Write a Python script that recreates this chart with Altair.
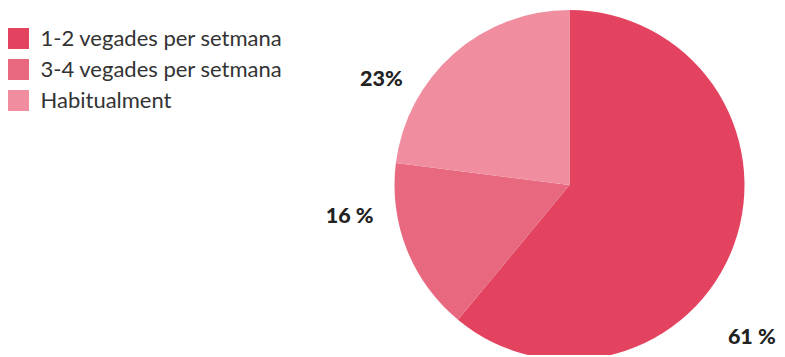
import altair as alt
import pandas as pd

categories = ["1-2 vegades per setmana", "3-4 vegades per setmana", "Habitualment"]
values = [61, 16, 23]
labels = ["61 %", "16 %", "23%"]
colors = ["#E44360", "#E8687F", "#F08D9E"]

df = pd.DataFrame({"cat": categories, "val": values, "lab": labels, "ord": [0, 1, 2]})

W, H = 400, 340
PL = 561.5 - W / 2
PR = 769 - PL - W

base = alt.Chart(df).encode(
    theta=alt.Theta("val:Q", stack=True),
    order=alt.Order("ord:Q"),
)

pie = base.mark_arc(radius=175, stroke=None).encode(
    color=alt.Color(
        "cat:N",
        scale=alt.Scale(domain=categories, range=colors),
        sort=categories,
        legend=alt.Legend(
            title=None,
            orient="none",
            legendX=-PL - 0.5,
            legendY=12.5,
            symbolType="square",
            symbolSize=441,
            symbolStrokeWidth=0,
            labelFont="Lato",
            labelFontSize=22,
            labelColor="#333333",
            labelLimit=0,
            rowPadding=9,
            labelOffset=11,
            padding=0,
        ),
    )
)

offsets = {"61 %": (-20, 80), "16 %": (-20, -47), "23%": (-46, 56)}
text_layers = []
for lab in labels:
    dx, dy = offsets[lab]
    text_layers.append(
        base.mark_text(
            radius=215,
            font="Lato",
            fontSize=21.5,
            fontWeight=900,
            color="#222222",
            dx=dx,
            dy=dy,
        ).encode(
            text="lab:N",
            opacity=alt.condition(alt.datum.lab == lab, alt.value(1), alt.value(0)),
        )
    )

chart = alt.layer(pie, *text_layers).properties(
    width=W,
    height=H,
    padding={"left": PL, "top": 7, "right": PR, "bottom": 0},
    autosize=alt.AutoSizeParams(type="none"),
).configure_view(stroke=None)

chart.save("out.html", embed_options={"renderer": "svg", "actions": False})
